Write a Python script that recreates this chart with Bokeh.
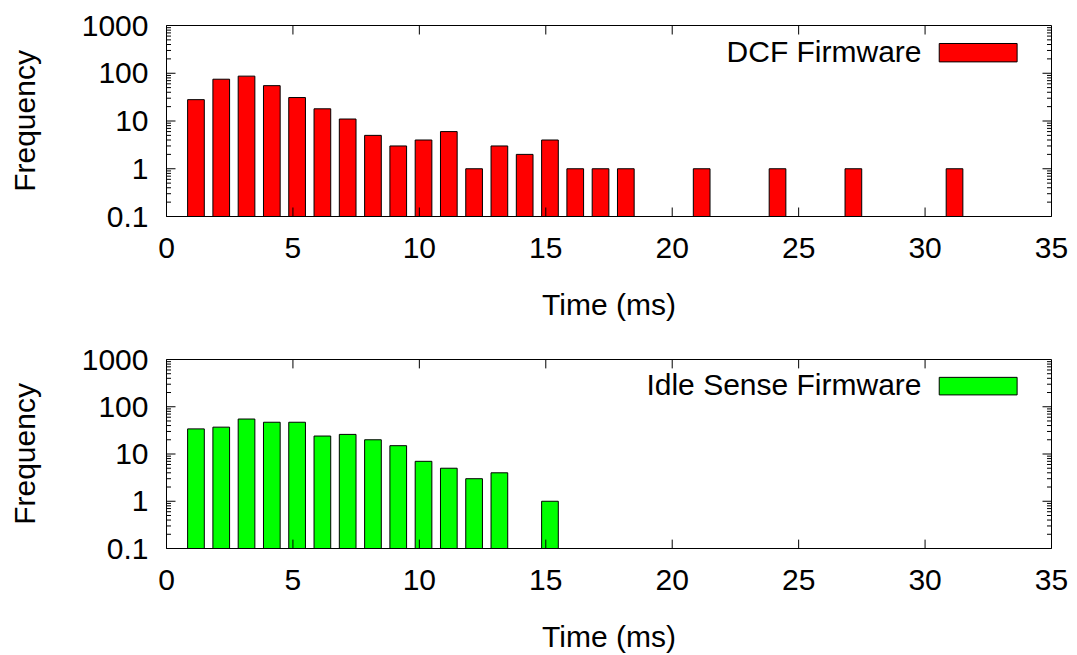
from bokeh.plotting import figure
from bokeh.layouts import column
from bokeh.models import (FixedTicker, BoxAnnotation, Label,
                          ColumnDataSource, Range1d)
from bokeh.embed import file_html
from bokeh.resources import INLINE
from bokeh.transform import dodge

# ---- data ----
dcf_time = list(range(1, 32))
dcf_freq = [28, 75, 87, 55, 31, 18, 11, 5, 3, 4, 6, 1, 3, 2, 4, 1, 1, 1,
            0, 0, 1, 0, 0, 1, 0, 0, 1, 0, 0, 0, 1]
idle_time = list(range(1, 16))
idle_freq = [34, 37, 55, 47, 47, 24, 26, 20, 15, 7, 5, 3, 4, 0, 1]

x_ticks = [0, 5, 10, 15, 20, 25, 30, 35]
y_ticks = [0.1, 1, 10, 100, 1000]
y_labels = ["0.1", "1", "10", "100", "1000"]
series_names = ["DCF Firmware", "Idle Sense Firmware"]
series_colors = ["#ff0000", "#00ff00"]

FONT = "Liberation Sans"
FS = "30px"
X_MIN, X_MAX = 0, 35
Y_MIN, Y_MAX = 0.1, 1000
minor_y = [m * 10 ** k for k in range(-1, 3) for m in range(2, 10)]

FRAME_W, FRAME_H = 885, 191
PX_PER_X = FRAME_W / (X_MAX - X_MIN)
PX_PER_DEC = FRAME_H / 4.0
MAJ, MIN = 9, 4.5


def panel(times, freqs, color, name, height, b_top, b_bottom,
          leg_y, leg_text_y):
    src = ColumnDataSource(dict(t=times, f=freqs,
                                top=[max(v, Y_MIN) for v in freqs]))
    p = figure(width=1077, height=height, x_range=Range1d(X_MIN, X_MAX),
               y_range=Range1d(Y_MIN, Y_MAX), y_axis_type="log",
               output_backend="svg", toolbar_location=None,
               min_border_left=166, min_border_right=1077 - 166 - FRAME_W,
               min_border_top=b_top, min_border_bottom=b_bottom)
    p.grid.visible = False
    p.outline_line_color = "black"
    p.outline_line_width = 1
    p.outline_line_alpha = 1
    p.background_fill_color = "white"
    p.border_fill_color = "white"

    p.vbar(x=dodge("t", 0.165, range=p.x_range), width=0.66, bottom=Y_MIN,
           top="top", source=src, fill_color=color, line_color="black",
           line_width=1)

    # inward tick marks on all four sides (gnuplot style)
    fx = 10 ** (MAJ / PX_PER_DEC)
    inner_x = [x for x in x_ticks if X_MIN < x < X_MAX]
    p.segment(x0=inner_x, y0=[Y_MIN] * len(inner_x), x1=inner_x,
              y1=[Y_MIN * fx] * len(inner_x), line_color="black", line_width=1)
    p.segment(x0=inner_x, y0=[Y_MAX] * len(inner_x), x1=inner_x,
              y1=[Y_MAX / fx] * len(inner_x), line_color="black", line_width=1)
    for ticks, ln in ((y_ticks, MAJ), (minor_y, MIN)):
        dx = ln / PX_PER_X
        n = len(ticks)
        p.segment(x0=[X_MIN] * n, y0=ticks, x1=[X_MIN + dx] * n, y1=ticks,
                  line_color="black", line_width=1)
        p.segment(x0=[X_MAX] * n, y0=ticks, x1=[X_MAX - dx] * n, y1=ticks,
                  line_color="black", line_width=1)

    xa = p.xaxis[0]
    xa.ticker = FixedTicker(ticks=x_ticks)
    xa.axis_label = "Time (ms)"
    ya = p.yaxis[0]
    ya.ticker = FixedTicker(ticks=y_ticks, minor_ticks=minor_y)
    ya.axis_label = "Frequency"
    ya.major_label_overrides = {v: s for v, s in zip(y_ticks, y_labels)}

    for ax in (xa, ya):
        ax.axis_line_color = "black"
        ax.major_tick_line_color = None
        ax.minor_tick_line_color = None
        ax.major_label_text_font = FONT
        ax.major_label_text_font_size = FS
        ax.major_label_text_color = "black"
        ax.axis_label_text_font = FONT
        ax.axis_label_text_font_size = FS
        ax.axis_label_text_font_style = "normal"
        ax.axis_label_text_color = "black"
        ax.major_tick_out = 0
        ax.minor_tick_out = 0
        ax.major_tick_in = 0
        ax.minor_tick_in = 0
    xa.major_label_standoff = 21
    xa.axis_label_standoff = 27
    ya.major_label_standoff = 18
    ya.axis_label_standoff = 38

    # legend: text on the left, swatch on the right (gnuplot style)
    p.add_layout(BoxAnnotation(left=30.56, right=33.64, bottom=leg_y[0],
                               top=leg_y[1], fill_color=color, fill_alpha=1,
                               line_color="black", line_alpha=1,
                               line_width=1))
    p.add_layout(Label(x=29.86, y=leg_text_y, text=name, text_align="right",
                       text_baseline="alphabetic", text_font=FONT,
                       text_font_size=FS, text_color="black"))
    return p


p1 = panel(dcf_time, dcf_freq, series_colors[0], series_names[0],
           height=329, b_top=25, b_bottom=113,
           leg_y=(173, 420), leg_text_y=280)
p2 = panel(idle_time, idle_freq, series_colors[1], series_names[1],
           height=326, b_top=30, b_bottom=105,
           leg_y=(178, 419), leg_text_y=300)

p = column(p1, p2)
open("out.html", "w").write(file_html(p, INLINE))
